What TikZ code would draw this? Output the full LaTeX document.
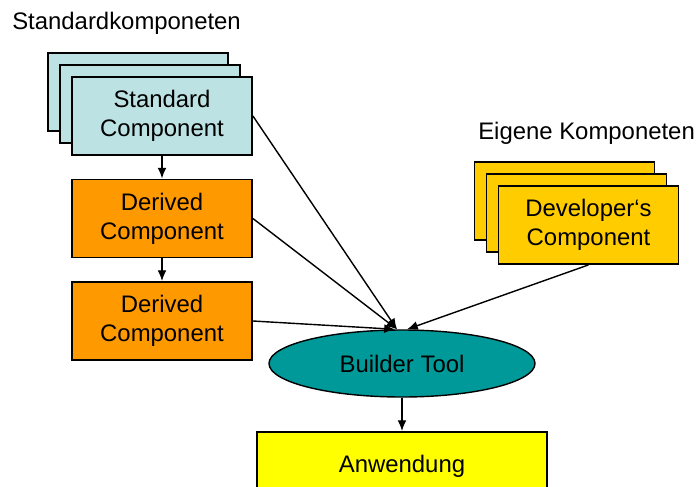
\documentclass[tikz,border=0pt]{standalone}
\usepackage{fontspec}
\setmainfont{Liberation Sans}
\usetikzlibrary{shapes.geometric,arrows.meta}
\definecolor{stdblue}{RGB}{188,226,227}
\definecolor{derorange}{RGB}{255,153,0}
\definecolor{devgold}{RGB}{255,204,0}
\definecolor{toolteal}{RGB}{0,153,153}
\definecolor{appyellow}{RGB}{255,255,0}
\tikzset{
  card/.style={draw, line width=1.3pt, minimum width=4.5cm, minimum height=1.95cm, align=center, inner sep=0pt},
  stdcard/.style={card, fill=stdblue},
  dercard/.style={card, fill=derorange},
  devcard/.style={card, fill=devgold},
  flow/.style={-{Latex[length=0.27cm,width=0.22cm]}, line width=1pt},
}
\begin{document}
\begin{tikzpicture}[font=\fontsize{17}{20.6}\selectfont]
                \useasboundingbox (0,0) rectangle (17.425,-12.175);
                \clip (0,0) rectangle (17.425,-12.175);
                % headings
                \node[anchor=west, inner sep=0pt] (stdhead) at (0.3,-0.575) {Standardkomponeten};
                \node[anchor=west, inner sep=0pt] (ownhead) at (11.95,-3.325) {Eigene Komponeten};
                % stacked standard components
                \foreach \i in {2,1} \node[stdcard] at (4.05-0.3*\i,-2.9+0.3*\i) {};
                \node[stdcard] (std) at (4.05,-2.9) {Standard\\Component};
                \node[dercard] (der1) at (4.05,-5.4625) {Derived\\Component};
                \node[dercard] (der2) at (4.05,-8.025) {Derived\\Component};
                % stacked developer components
                \foreach \i in {2,1} \node[devcard] at (14.7125-0.3*\i,-5.625+0.3*\i) {};
                \node[devcard] (dev) at (14.7125,-5.625) {Developer‘s\\Component};
                % tool and result
                \node[ellipse, draw, line width=1pt, fill=toolteal, minimum width=6.65cm, minimum height=1.675cm, inner sep=0pt] (tool) at (10.05,-9.0875) {Builder Tool};
                \node[draw, line width=1.3pt, fill=appyellow, minimum width=7.25cm, minimum height=1.7cm, inner sep=0pt] (app) at (10.05,-11.65) {Anwendung};
                \coordinate (inl) at ([xshift=-0.125cm]tool.north);
                \coordinate (inr) at ([xshift=0.125cm]tool.north);
                % connectors
                \draw[flow] (std) -- (der1);
                \draw[flow] (der1) -- (der2);
                \draw[flow] (std.east) -- (inl);
                \draw[flow] (der1.east) -- (inl);
                \draw[flow] (der2.east) -- ([xshift=-0.175cm]tool.north);
                \draw[flow] (dev.south) -- (inr);
                \draw[flow] (tool) -- (app);
            \end{tikzpicture}
\end{document}
